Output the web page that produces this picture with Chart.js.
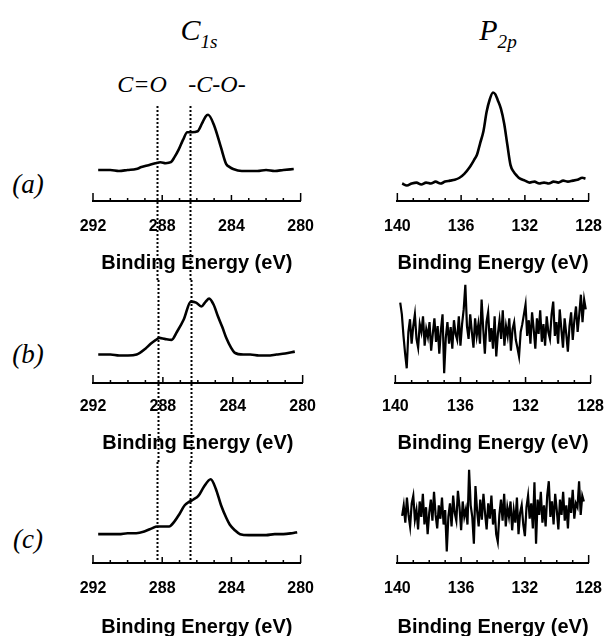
<!DOCTYPE html>
<html lang="en">
<head>
<meta charset="UTF-8">
<title>XPS C1s / P2p spectra</title>
<script src="https://cdn.jsdelivr.net/npm/chart.js@4.4.0/dist/chart.umd.min.js"></script>
<style>
  body { margin: 0; width: 615px; height: 636px; overflow: hidden; background: #fff; position: relative; }
  canvas { position: absolute; }
  .lbl { position: absolute; transform: translate(-50%, -50%); font-family: 'Liberation Serif', serif; font-style: italic; line-height: 1; white-space: nowrap; color: #000; }
  .lbl sub { font-size: 0.64em; vertical-align: -0.38em; }
</style>
</head>
<body>
<div class="lbl" style="left:199px;top:33px;font-size:30px">C<sub>1s</sub></div>
<div class="lbl" style="left:498px;top:33px;font-size:30px">P<sub>2p</sub></div>
<div class="lbl" style="left:142px;top:84px;font-size:24px">C=O</div>
<div class="lbl" style="left:217px;top:84px;font-size:24px">-C-O-</div>
<div class="lbl" style="left:28px;top:184px;font-size:27px">(a)</div>
<div class="lbl" style="left:28px;top:354px;font-size:27px">(b)</div>
<div class="lbl" style="left:28px;top:539px;font-size:27px">(c)</div>

<canvas id="c1sA" width="270" height="210" style="left:60px;top:70px"></canvas>
<canvas id="c1sB" width="270" height="182" style="left:60px;top:280px"></canvas>
<canvas id="c1sC" width="270" height="180" style="left:60px;top:462px"></canvas>
<canvas id="p2pA" width="250" height="210" style="left:368px;top:70px"></canvas>
<canvas id="p2pB" width="250" height="182" style="left:368px;top:280px"></canvas>
<canvas id="p2pC" width="250" height="180" style="left:368px;top:462px"></canvas>

<script>
// C1s spectra (binding energy in eV, intensity in arbitrary units)
const C1S_A_E = [291.7, 291.0, 290.5, 290.0, 289.5, 289.2, 288.8, 288.4, 288.1, 287.8, 287.5, 287.3, 287.05, 286.8, 286.55, 286.3, 285.95, 285.7, 285.5, 285.35, 285.0, 284.6, 284.3, 284.1, 283.9, 283.4, 283.0, 282.5, 282.0, 281.5, 281.0, 280.4];
const C1S_A_I = [32, 32, 31, 32, 33, 35, 37, 39, 40, 39, 40, 45, 53, 63, 71, 71, 72, 80, 87, 89, 78, 55, 38, 35, 33, 31, 31, 31, 32, 31, 32, 33];

const C1S_B_E = [291.7, 291.0, 290.5, 290.0, 289.5, 289.0, 288.7, 288.4, 288.2, 287.9, 287.5, 287.2, 286.8, 286.4, 286.1, 285.8, 285.55, 285.35, 285.1, 284.85, 284.6, 284.35, 284.1, 283.9, 283.4, 283.0, 282.5, 282.0, 281.5, 281.0, 280.45];
const C1S_B_I = [29, 29, 28, 28, 29, 35, 40, 44, 46, 45, 44, 52, 65, 83, 82, 78, 83, 86, 80, 68, 57, 45, 36, 31, 29, 29, 28, 28, 29, 30, 32];

const C1S_C_E = [291.7, 291.0, 290.5, 290.0, 289.5, 289.0, 288.6, 288.3, 288.0, 287.6, 287.3, 287.0, 286.7, 286.4, 286.2, 285.9, 285.6, 285.2, 284.9, 284.6, 284.3, 284.1, 283.8, 283.5, 283.0, 282.5, 282.0, 281.5, 281.0, 280.5, 280.2];
const C1S_C_I = [30, 30, 30, 31, 31, 33, 36, 38, 38, 38, 43, 51, 60, 64, 66, 70, 79, 87, 77, 60, 47, 40, 34, 30, 29, 29, 29, 30, 30, 31, 32];

// P2p spectra
const P2P_A_E = [139.7, 139.4, 139.1, 138.8, 138.5, 138.2, 137.9, 137.6, 137.3, 137.0, 136.7, 136.4, 136.1, 135.8, 135.5, 135.2, 135.0, 134.8, 134.6, 134.4, 134.2, 134.0, 133.85, 133.7, 133.5, 133.3, 133.1, 132.9, 132.7, 132.5, 132.3, 132.0, 131.7, 131.4, 131.1, 130.8, 130.5, 130.2, 129.9, 129.6, 129.3, 129.0, 128.7, 128.4, 128.2];
const P2P_A_I = [18, 16, 18, 19, 17, 19, 18, 20, 18, 20, 21, 22, 24, 28, 34, 42, 48, 60, 72, 92, 105, 112, 110, 104, 95, 80, 58, 37, 30, 26, 23, 21, 19, 20, 18, 19, 18, 20, 19, 21, 20, 21, 22, 24, 23];

// (b) and (c) are sampled every 0.1 eV from 139.7 eV
const P2P_START = 139.7;
const P2P_STEP = 0.1;
const P2P_B_I = [
    82, 70, 48, 30, 15, 52, 65, 40, 58, 70,
    45, 36, 60, 52, 68, 38, 55, 47, 62, 33,
    50, 66, 42, 58, 30, 54, 70, 10, 46, 62,
    40, 57, 35, 64, 50, 44, 68, 38, 60, 75,
    100, 58, 45, 70, 52, 36, 66, 48, 60, 40,
    85, 55, 30, 62, 72, 42, 56, 35, 68, 27,
    50, 64, 45, 74, 38, 58, 48, 66, 33, 55,
    62, 44, 36, 27, 52, 60, 70, 80, 48, 64,
    40, 72, 55, 35, 66, 50, 74, 42, 60, 38,
    68, 52, 45, 70, 83, 48, 62, 40, 75, 55,
    36, 66, 50, 32, 58, 72, 44, 64, 78, 52,
    70, 90, 62, 85, 75
];
const P2P_C_I = [
    49, 60, 42, 68, 50, 38, 62, 70, 45, 55,
    35, 64, 48, 72, 40, 58, 30, 52, 66, 44,
    74, 50, 36, 60, 46, 68, 40, 55, 12, 48,
    62, 38, 70, 52, 44, 75, 58, 34, 64, 48,
    56, 40, 97, 60, 48, 20, 80, 55, 38, 66,
    45, 72, 52, 35, 62, 46, 70, 40, 56, 30,
    22, 50, 66, 44, 72, 38, 58, 48, 64, 34,
    55, 42, 68, 30, 52, 60, 40, 28, 58, 70,
    46, 62, 36, 84, 20, 66, 50, 74, 42, 60,
    38, 70, 85, 48, 64, 40, 72, 55, 35, 66,
    50, 74, 44, 60, 36, 68, 52, 76, 46, 62,
    58, 85, 50, 70, 64
];

const C1S_TICKS = [280, 292];
const P2P_TICKS = [128, 140];
const REF_LINES = [288.3, 286.4]; // C=O and -C-O- positions

function gridEnergies(n) {
    const out = [];
    for (let i = 0; i < n; i++) out.push(+(P2P_START - i * P2P_STEP).toFixed(2));
    return out;
}

// axis decoration: upward tick marks, plus the dotted reference lines on C1s panels
function axisDecor(o) {
    return {
        id: 'axisDecor',
        afterDraw(chart) {
            const ctx = chart.ctx;
            const xs = chart.scales.x;
            const ys = chart.scales.y;
            const base = chart.chartArea.bottom;
            ctx.save();
            ctx.strokeStyle = '#000';
            ctx.lineWidth = 1.5;
            ctx.beginPath();
            for (let v = xs.min; v <= xs.max + 1e-6; v += 1) {
                const px = xs.getPixelForValue(v);
                let len = 3;
                if (Math.abs(v % 4) < 1e-6) len = 6;
                if (v === xs.min || v === xs.max) len = 8;
                ctx.moveTo(px, base);
                ctx.lineTo(px, base - len);
            }
            ctx.stroke();
            if (o.ref) {
                ctx.setLineDash([2, 2]);
                ctx.lineWidth = 2;
                const top = o.lineTop != null ? ys.getPixelForValue(o.lineTop) : 0;
                const bottom = o.toAxis ? base : chart.height;
                o.ref.forEach(e => {
                    const px = Math.round(xs.getPixelForValue(e)) + 0.5;
                    ctx.beginPath();
                    ctx.moveTo(px, top);
                    ctx.lineTo(px, bottom);
                    ctx.stroke();
                });
            }
            ctx.restore();
        }
    };
}

function panel(id, energies, counts, range, o) {
    const pts = energies.map((e, i) => ({ x: e, y: counts[i] }));
    return new Chart(document.getElementById(id), {
        type: 'line',
        data: {
            datasets: [{
                data: pts,
                borderColor: '#000',
                borderWidth: o.noisy ? 2.2 : 2.6,
                pointRadius: 0,
                tension: o.noisy ? 0 : 0.4,
                cubicInterpolationMode: o.noisy ? 'default' : 'monotone'
            }]
        },
        options: {
            responsive: false,
            animation: false,
            events: [],
            layout: { padding: { left: o.padL, right: o.padR, top: o.padT, bottom: 0 } },
            plugins: { legend: { display: false }, tooltip: { enabled: false } },
            scales: {
                x: {
                    type: 'linear',
                    reverse: true,
                    min: range[0],
                    max: range[1],
                    grid: { display: false, drawTicks: false },
                    border: { display: true, color: '#000', width: 2 },
                    ticks: {
                        stepSize: 4,
                        padding: o.tickPad,
                        color: '#000',
                        font: { family: 'Liberation Sans', weight: 'bold', size: 16 }
                    },
                    title: {
                        display: true,
                        text: 'Binding Energy (eV)',
                        color: '#000',
                        font: { family: 'Liberation Sans', weight: 'bold', size: 20 },
                        padding: { top: o.titleTop, bottom: o.titleBottom }
                    }
                },
                y: { display: false, min: 0, max: o.yMax }
            }
        },
        plugins: [axisDecor(o)]
    });
}

const rowA = { padT: 5, yMax: 130, tickPad: 16, titleTop: -1.2, titleBottom: 5 };
const rowB = { padT: 0, yMax: 105, tickPad: 14, titleTop: 0.8, titleBottom: 7 };
const rowC = { padT: 0, yMax: 105, tickPad: 16, titleTop: 0.8, titleBottom: 3 };
const left = { padL: 33, padR: 19 };
const right = { padL: 25, padR: 15 };

panel('c1sA', C1S_A_E, C1S_A_I, C1S_TICKS, { ...rowA, ...left, ref: REF_LINES, lineTop: 98 });
panel('c1sB', C1S_B_E, C1S_B_I, C1S_TICKS, { ...rowB, ...left, ref: REF_LINES });
panel('c1sC', C1S_C_E, C1S_C_I, C1S_TICKS, { ...rowC, ...left, ref: REF_LINES, toAxis: true });
panel('p2pA', P2P_A_E, P2P_A_I, P2P_TICKS, { ...rowA, ...right });
panel('p2pB', gridEnergies(P2P_B_I.length), P2P_B_I, P2P_TICKS, { ...rowB, ...right, noisy: true });
panel('p2pC', gridEnergies(P2P_C_I.length), P2P_C_I, P2P_TICKS, { ...rowC, ...right, noisy: true });
</script>
</body>
</html>
